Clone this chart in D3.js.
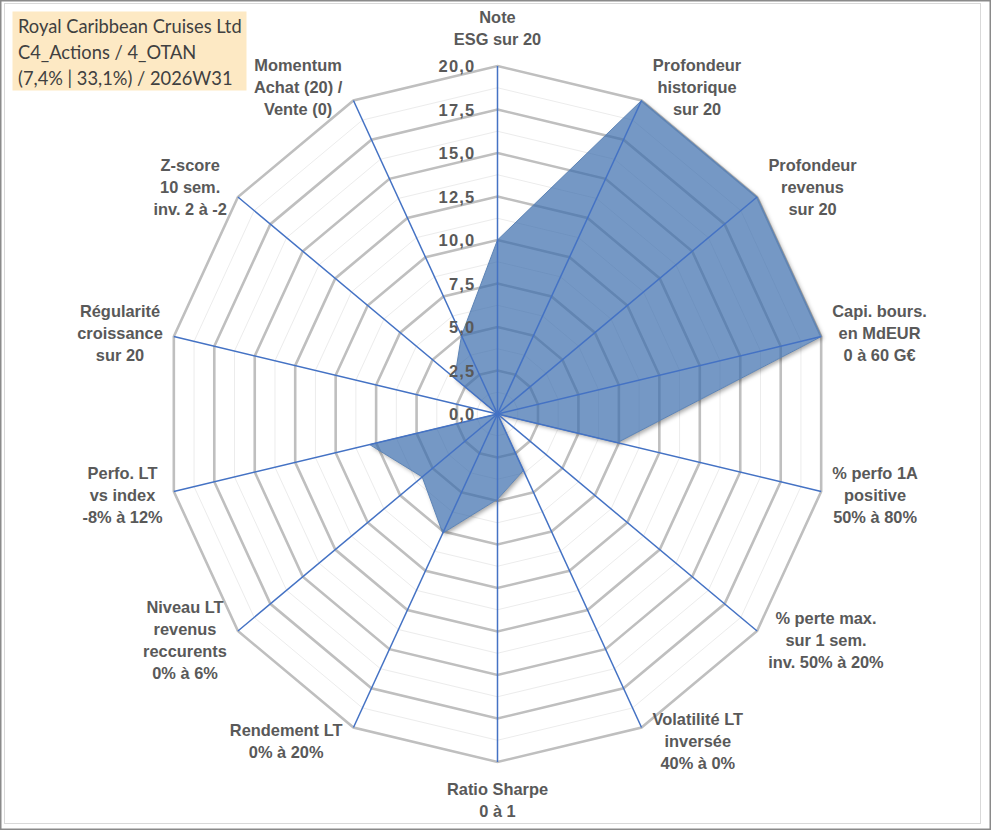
<!DOCTYPE html>
<html>
<head>
<meta charset="utf-8">
<script src="https://cdn.jsdelivr.net/npm/d3@7/dist/d3.min.js"></script>
<style>
  html, body { margin: 0; padding: 0; background: #fff; }
  svg { display: block; }
</style>
</head>
<body>
<div id="chart"></div>
<script>
// chart data
const axisLabels = [
  ['Note', 'ESG sur 20'],
  ['Profondeur', 'historique', 'sur 20'],
  ['Profondeur', 'revenus', 'sur 20'],
  ['Capi. bours.', 'en MdEUR', '0 à 60 G€'],
  ['% perfo 1A', 'positive', '50% à 80%'],
  ['% perte max.', 'sur 1 sem.', 'inv. 50% à 20%'],
  ['Volatilité LT', 'inversée', '40% à 0%'],
  ['Ratio Sharpe', '0 à 1'],
  ['Rendement LT', '0% à 20%'],
  ['Niveau LT', 'revenus', 'reccurents', '0% à 6%'],
  ['Perfo. LT', 'vs index', '-8% à 12%'],
  ['Régularité', 'croissance', 'sur 20'],
  ['Z-score', '10 sem.', 'inv. 2 à -2'],
  ['Momentum', 'Achat (20) /', 'Vente (0)']
]
const scores = [10, 20, 20, 20, 7.4, 0, 3.6, 4.9, 7.6, 5.8, 7.9, 0, 3.3, 5.0]
const majorTicks = [0, 2.5, 5, 7.5, 10, 12.5, 15, 17.5, 20]
const minorTicks = [1.25, 3.75, 6.25, 8.75, 11.25, 13.75, 16.25, 18.75]
const titleLines = [
  'Royal Caribbean Cruises Ltd',
  'C4_Actions / 4_OTAN',
  '(7,4% | 33,1%) / 2026W31'
]

const width = 991, height = 830
const cx = 497.5, cy = 414
const n = axisLabels.length
const font = "'Liberation Sans', Arial, sans-serif"

// the picture is slightly squashed horizontally, so two radial scales
const rx = d3.scaleLinear().domain([0, 20]).range([0, 332])
const ry = d3.scaleLinear().domain([0, 20]).range([0, 348])
const angle = d3.scaleLinear().domain([0, n]).range([0, 2 * Math.PI])

const fr = d3.formatLocale({ decimal: ',', thousands: ' ', grouping: [3], currency: ['', ' €'] })
const fmt = fr.format('.1f')

const pt = (i, v) => [
  cx + rx(v) * Math.sin(angle(i)),
  cy - ry(v) * Math.cos(angle(i))
]

const ring = d3.line().curve(d3.curveLinearClosed)

const svg = d3.select('#chart').append('svg')
  .attr('width', width)
  .attr('height', height)

// outer-only drop shadow, so it does not darken the see-through fill
const flt = svg.append('defs').append('filter')
  .attr('id', 'shadow')
  .attr('x', '-10%').attr('y', '-10%')
  .attr('width', '130%').attr('height', '130%')
flt.append('feGaussianBlur')
  .attr('in', 'SourceAlpha').attr('stdDeviation', 2).attr('result', 'blur')
flt.append('feOffset')
  .attr('in', 'blur').attr('dx', 2).attr('dy', 2).attr('result', 'off')
flt.append('feComposite')
  .attr('in', 'off').attr('in2', 'SourceAlpha')
  .attr('operator', 'out').attr('result', 'outer')
flt.append('feFlood')
  .attr('flood-color', '#000').attr('flood-opacity', 0.35).attr('result', 'col')
flt.append('feComposite')
  .attr('in', 'col').attr('in2', 'outer').attr('operator', 'in')

svg.append('rect')
  .attr('x', 0.75).attr('y', 0.75)
  .attr('width', width - 1.5).attr('height', height - 1.5)
  .attr('fill', '#fff')
  .attr('stroke', '#8a8a8a')
  .attr('stroke-width', 1.5)

svg.append('rect')
  .attr('x', 4.5).attr('y', 3.5)
  .attr('width', 976).attr('height', 820)
  .attr('fill', 'none')
  .attr('stroke', '#d9d9d9')

// grid
svg.append('g').selectAll('path')
  .data(minorTicks)
  .join('path')
  .attr('d', v => ring(d3.range(n).map(i => pt(i, v))))
  .attr('fill', 'none')
  .attr('stroke', '#ececec')
  .attr('stroke-width', 1)

svg.append('g').selectAll('path')
  .data(majorTicks.filter(v => v > 0))
  .join('path')
  .attr('d', v => ring(d3.range(n).map(i => pt(i, v))))
  .attr('fill', 'none')
  .attr('stroke', '#bfbfbf')
  .attr('stroke-width', 2.6)

// series
const area = d => ring(d.map((v, i) => pt(i, v)))

svg.append('path')
  .datum(scores)
  .attr('d', area)
  .attr('fill', '#000')
  .attr('filter', 'url(#shadow)')

svg.append('path')
  .datum(scores)
  .attr('d', area)
  .attr('fill', 'rgb(58,108,172)')
  .attr('fill-opacity', 0.7)
  .attr('stroke', '#5d84b6')
  .attr('stroke-width', 1)

// spokes
svg.append('g').selectAll('line')
  .data(d3.range(n))
  .join('line')
  .attr('x1', cx).attr('y1', cy)
  .attr('x2', i => pt(i, 20)[0])
  .attr('y2', i => pt(i, 20)[1])
  .attr('stroke', '#4472c4')
  .attr('stroke-width', 1.5)

// value labels on the top spoke
svg.append('g').selectAll('text')
  .data(majorTicks)
  .join('text')
  .attr('x', cx - 22)
  .attr('y', v => cy - ry(v) + 6)
  .attr('text-anchor', 'end')
  .attr('font-family', font)
  .attr('font-weight', 'bold')
  .attr('font-size', 16.5)
  .attr('letter-spacing', 1.2)
  .attr('fill', '#595959')
  .text(v => fmt(v))

// axis names
const lineH = 22
const gap = 11
const labels = svg.append('g')
  .attr('font-family', font)
  .attr('font-weight', 'bold')
  .attr('font-size', 16.4)
  .attr('fill', '#595959')
  .attr('text-anchor', 'middle')

axisLabels.forEach((lines, i) => {
  const a = angle(i)
  const s = Math.sin(a), c = Math.cos(a)
  const [ex, ey] = pt(i, 20)
  const t = labels.append('text')
  t.selectAll('tspan')
    .data(lines)
    .join('tspan')
    .attr('x', 0)
    .attr('y', (d, k) => (k - (lines.length - 1) / 2) * lineH + 5.8)
    .text(d => d)
  const w = t.node().getBBox().width
  const h = lines.length * lineH
  let mx, my
  if (Math.abs(s) < 0.1) {
    mx = ex
    my = ey - Math.sign(c) * (h / 2 + 16)
  } else {
    mx = ex + Math.sign(s) * (w / 2 + gap)
    my = ey - c * 15
  }
  t.attr('transform', `translate(${mx},${my})`)
})

// title box
const title = svg.append('g')
title.append('rect')
  .attr('x', 12.5).attr('y', 11.5)
  .attr('width', 234).attr('height', 79)
  .attr('fill', '#fde9c4')
title.append('g').selectAll('text')
  .data(titleLines)
  .join('text')
  .attr('x', 18)
  .attr('y', (d, k) => 33 + k * 26)
  .attr('font-family', 'Lato, Open Sans, sans-serif')
  .attr('font-size', 18.3)
  .attr('fill', '#404040')
  .text(d => d)
</script>
</body>
</html>
